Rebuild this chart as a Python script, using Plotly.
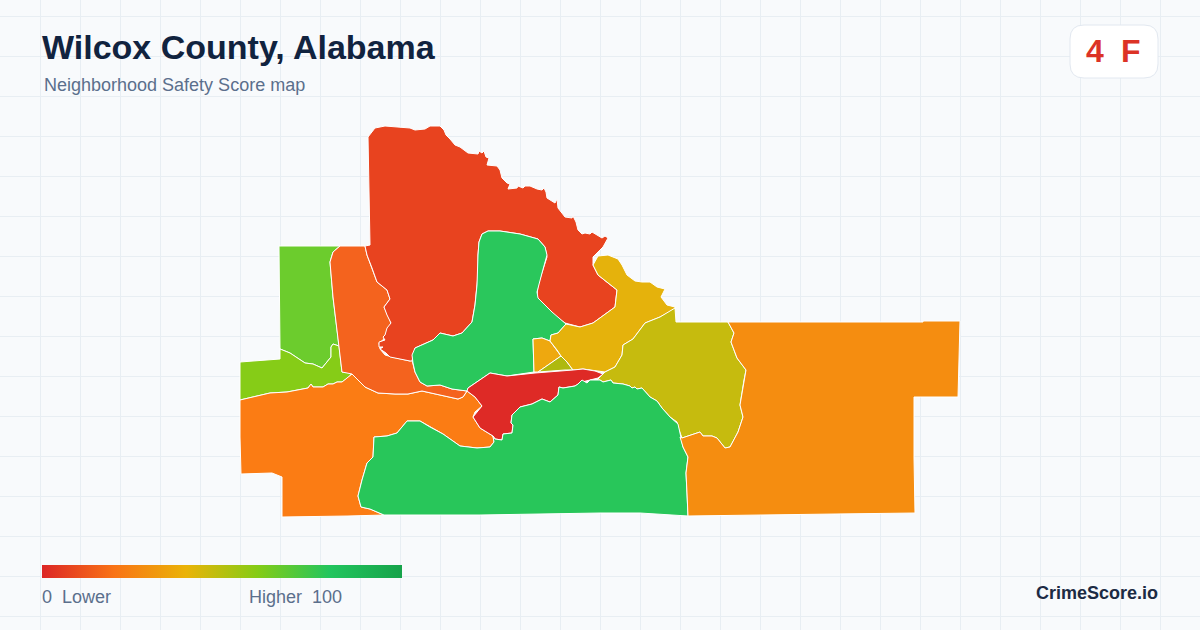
# Wilcox County tract map
import plotly.graph_objects as go

# tract outlines
tract_nw_x = [279,340,333,330,333,337,339,333,331,331,322,313,305,290,280]
tract_nw_y = [246,246,252,262,297,330,346,344,347,357,368,364,363,353,349]
tract_w_x = [240,280,280,290,305,313,322,331,331,333,339,342,352,349,342,337,333,328,323,313,311,308,287,270,240]
tract_w_y = [362,359,349,353,363,364,368,357,347,344,346,372,373,377,382,382,384,384,387,387,384,388,392,393,400]
tract_sw_x = [240,270,287,308,311,313,323,328,333,337,342,349,352,358,365,378,395,408,422,440,458,463,467,475,482,475,473,480,493,494,490,477,460,443,430,420,407,397,387,374,373,367,362,358,361,370,384,348,282,282,272,241,240]
tract_sw_y = [400,393,392,388,384,387,387,384,384,382,382,377,374,380,387,393,394,394,391,395,399,397,391,397,406,412,417,428,436,442,447,448,446,434,427,421,421,433,436,437,457,463,480,496,507,509,515,516,517,477,473,474,437]
tract_mid_x = [340,365,367,372,377,387,390,384,388,391,387,383,379,380,385,392,410,412,415,420,427,440,452,467,463,458,440,422,408,395,378,365,358,352,342,339,337,333,330,333]
tract_mid_y = [246,246,255,268,282,290,299,307,317,323,333,340,343,349,355,357,361,360,372,382,386,385,389,391,397,399,395,391,394,394,393,387,380,374,372,346,330,297,262,252]
tract_n_x = [368,375,385,402,410,415,425,430,440,444,446,450,455,460,468,478,479,482,484,486,489,487,497,500,502,507,510,508,517,518,523,525,530,537,542,544,546,547,552,555,557,558,565,572,573,576,578,582,585,590,592,602,605,608,603,593,593,598,608,617,615,607,593,580,565,553,542,537,538,547,545,538,520,500,488,482,479,478,478,475,472,462,453,440,433,415,412,410,390,386,380,383,379,379,385,383,385,387,391,387,384,390,387,377,372,367,365,370]
tract_n_y = [137,128,126,127,128,130,129,126,126,130,135,139,145,147,153,154,151,153,151,157,158,165,166,170,178,183,184,189,188,186,188,186,186,189,190,188,192,198,201,203,199,208,217,218,216,222,230,234,233,234,232,238,236,238,247,257,265,275,283,290,307,313,323,327,323,315,303,297,285,257,247,239,234,231,231,234,242,255,275,305,322,333,336,333,340,348,361,361,357,353,349,347,347,342,340,337,335,328,323,315,307,299,290,282,268,255,246,245]
tract_c_x = [488,500,520,538,545,547,542,537,538,552,566,558,551,550,542,533,534,507,490,468,467,452,440,427,420,415,413,412,415,433,440,445,453,462,467,472,475,477,478,479,482]
tract_c_y = [231,231,234,239,247,255,273,292,298,312,324,333,335,341,338,339,372,376,373,388,391,389,385,386,382,372,363,355,348,340,333,334,336,333,328,322,305,285,255,242,234]
tract_amber_x = [533,542,550,557,561,538,534]
tract_amber_y = [339,338,341,350,356,372,372]
tract_lime_x = [561,538,565,573,567]
tract_lime_y = [356,372,370,370,362]
tract_yellow_x = [593,598,608,618,622,627,635,642,650,657,665,661,667,675,675,660,645,640,633,623,622,615,605,583,573,567,561,557,550,551,558,566,580,593,607,615,617,608,598,593]
tract_yellow_y = [265,256,255,259,265,275,281,282,282,287,289,297,305,307,309,317,323,330,339,345,355,367,372,369,370,362,356,350,341,335,333,324,327,323,313,307,290,283,275,265]
tract_olive_x = [675,676,728,734,731,737,746,744,740,743,738,730,725,717,712,703,700,682,678,677,670,662,657,650,642,637,635,632,630,623,613,611,607,603,600,597,605,615,622,623,633,640,645,660]
tract_olive_y = [308,322,322,333,342,358,370,380,405,417,432,447,448,438,436,436,432,438,427,422,417,408,401,397,388,389,387,388,386,384,383,380,381,382,380,380,372,367,355,345,339,330,323,317]
tract_red_x = [468,490,507,535,573,583,595,603,598,590,582,575,563,559,558,550,542,532,520,512,511,513,512,503,502,495,493,480,473,482,475,467]
tract_red_y = [388,373,376,373,370,369,371,374,378,380,382,386,388,387,395,402,399,404,407,415,423,425,433,434,440,439,436,428,417,406,397,391]
tract_s_x = [384,370,361,358,362,367,373,374,387,397,407,420,430,443,460,477,490,494,493,495,502,503,512,513,511,512,520,532,542,550,558,559,563,575,578,582,587,590,597,600,603,607,611,613,623,630,632,635,637,642,650,657,662,670,678,680,683,688,686,687,688,640,600,480]
tract_s_y = [515,509,507,496,480,463,457,437,436,433,421,421,427,434,446,448,447,442,436,439,440,434,433,425,423,415,407,404,399,402,395,387,388,386,384,380,383,380,380,380,382,381,380,383,384,386,388,387,389,388,397,401,408,417,424,433,447,457,473,493,516,513,513,515]
tract_e_x = [728,923,923,960,958,914,914,915,835,727,688,687,686,688,683,680,682,700,703,712,717,725,730,738,743,740,744,746,737,731,734]
tract_e_y = [322,322,321,321,397,397,458,513,514,515,516,493,473,457,447,437,438,432,436,436,438,448,447,432,417,405,380,370,358,342,333]

tracts = [
    (tract_nw_x, tract_nw_y, "#6ccc2d"),
    (tract_w_x, tract_w_y, "#86cc17"),
    (tract_sw_x, tract_sw_y, "#fb7c14"),
    (tract_mid_x, tract_mid_y, "#f4631e"),
    (tract_n_x, tract_n_y, "#e8431f"),
    (tract_c_x, tract_c_y, "#2ac75c"),
    (tract_amber_x, tract_amber_y, "#eea80f"),
    (tract_lime_x, tract_lime_y, "#aeb90f"),
    (tract_yellow_x, tract_yellow_y, "#e5b20c"),
    (tract_olive_x, tract_olive_y, "#c6bb0e"),
    (tract_red_x, tract_red_y, "#de2a26"),
    (tract_s_x, tract_s_y, "#28c65a"),
    (tract_e_x, tract_e_y, "#f58d10"),
]

# legend
legend_x = [42, 402, 402, 42, 42]
legend_y = [565, 565, 578, 578, 565]
legend_stops = [0, 0.2, 0.4, 0.6, 0.8, 1]
legend_colors = ["#dc2626", "#f97316", "#eab308", "#84cc16", "#22c55e", "#16a34a"]

fig = go.Figure()

for xs, ys, color in tracts:
    fig.add_trace(go.Scatter(x=xs + xs[:1], y=ys + ys[:1], mode="lines", fill="toself",
                             fillcolor=color, line=dict(color="white", width=1),
                             hoverinfo="skip"))

fig.add_trace(go.Scatter(x=legend_x, y=legend_y, mode="lines", fill="toself",
                         line=dict(width=0, color="rgba(0,0,0,0)"),
                         fillgradient=dict(type="horizontal",
                                           colorscale=list(zip(legend_stops, legend_colors))),
                         hoverinfo="skip"))

def label(x, y, text, size, color, bold=False, anchor="left"):
    # annotations pad their text by 2px
    shift = {"left": -2, "right": 2, "center": 0}[anchor]
    fig.add_annotation(x=x, y=y, text="<b>%s</b>" % text if bold else text, showarrow=False,
                       xanchor=anchor, yanchor="middle", xshift=shift,
                       font=dict(family="Liberation Sans", size=size, color=color))

label(42, 47, "Wilcox County, Alabama", 34, "#11233f", bold=True)
label(44, 85, "Neighborhood Safety Score map", 18, "#5b6f8c")
label(1095, 51, "4", 32, "#dc3326", bold=True, anchor="center")
label(1131, 51, "F", 32, "#dc3326", bold=True, anchor="center")
label(42, 597, "0", 18, "#5b6f8c")
label(62, 597, "Lower", 18, "#5b6f8c")
label(249, 597, "Higher", 18, "#5b6f8c")
label(342, 597, "100", 18, "#5b6f8c", anchor="right")
label(1158, 593, "CrimeScore.io", 18, "#1c2b44", bold=True, anchor="right")

# hide the grid above the header line, then the score badge
fig.add_shape(type="rect", x0=0, x1=1200, y0=0, y1=96, layer="below",
              fillcolor="#f8fafc", line_width=0)
fig.add_shape(type="path", layer="above", fillcolor="#ffffff",
              line=dict(color="#e2e8f0", width=1),
              path="M1084,25 H1144 Q1158,25 1158,39 V64 Q1158,78 1144,78 H1084 Q1070,78 1070,64 V39 Q1070,25 1084,25 Z")

fig.update_xaxes(range=[0, 1200], showgrid=True, gridcolor="#e8eef3", gridwidth=1, dtick=40, tick0=0,
                 zeroline=False, showticklabels=False, ticks="", showline=False)
fig.update_yaxes(range=[630, 0], showgrid=True, gridcolor="#e8eef3", gridwidth=1, dtick=40, tick0=16,
                 zeroline=False, showticklabels=False, ticks="", showline=False)
fig.update_layout(width=1200, height=630, margin=dict(l=0, r=0, t=0, b=0), showlegend=False,
                  paper_bgcolor="#f8fafc", plot_bgcolor="#f8fafc")

fig.write_html("out.html", config={"displayModeBar": False},
               post_script="document.body.style.margin='0';")
